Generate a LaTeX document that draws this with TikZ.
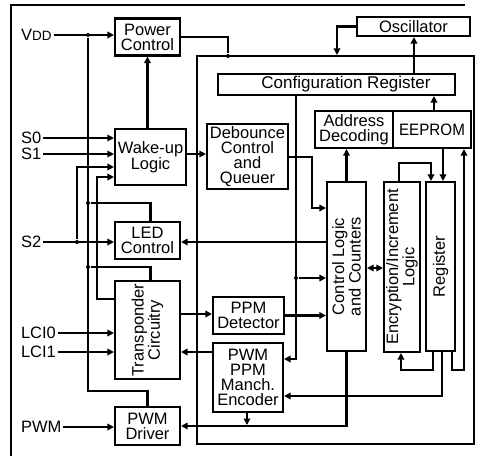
\documentclass[tikz,border=0pt]{standalone}
\usepackage{fontspec}
\setmainfont{Liberation Sans}
\usetikzlibrary{arrows.meta}
\newcommand{\blkfont}{\fontsize{16.5}{15}\selectfont}

\begin{document}
\begin{tikzpicture}[x=1pt,y=-1pt,line width=2.1pt,
	>={Triangle[length=6.5pt,width=6.5pt]},
	blk/.style={draw, inner sep=0pt, align=center, font=\blkfont},
	lbl/.style={inner sep=1pt, anchor=west, font=\blkfont},
	vtext/.style={rotate=90, inner sep=0pt, align=center, font=\blkfont},
	thinline/.style={line width=1.1pt},
	dot/.style={circle, fill, inner sep=0pt, minimum size=4pt}]
			\useasboundingbox (0,0) rectangle (479,456);
			\draw (11,456) -- (11,5) -- (465,5);
			\node[draw, inner sep=0pt, minimum width=277, minimum height=388] (chip) at (335.5,250) {};
			\node[blk, minimum width=65, minimum height=37] (pwr) at (147.5,37) {Power\\Control};
			\node[blk, minimum width=113, minimum height=19] (osc) at (413.5,26.5) {Oscillator};
			\node[blk, minimum width=237, minimum height=21, font=\fontsize{17}{15}\selectfont] (cfg) at (336.5,84.5) {\hspace*{19pt}Configuration Register};
			\node[blk, minimum width=78, minimum height=37] (addr) at (354,129.5) {Address\\Decoding};
			\node[blk, minimum width=78, minimum height=37] (eep) at (432,129.5) {\scalebox{0.92}[1]{EEPROM}};
			\node[blk, minimum width=71, minimum height=56] (wake) at (150.5,157) {Wake-up\\Logic};
			\node[blk, minimum width=81, minimum height=65] (deb) at (247.5,156.5) {Debounce\\Control\\and\\Queuer};
			\node[blk, minimum width=65, minimum height=37] (led) at (147.5,240.5) {LED\\Control};
			\node[blk, minimum width=39, minimum height=169] (ctl) at (346.5,266.5) {};
			\node[vtext] at (ctl) {Control Logic\\and Counters};
			\node[blk, minimum width=36, minimum height=170] (enc) at (402,267) {};
			\node[vtext] at (enc) {Encryption/Increment\\Logic};
			\node[blk, minimum width=29, minimum height=169] (reg) at (440.5,266.5) {};
			\node[vtext] at (reg) {Register};
			\node[blk, minimum width=71, minimum height=37] (ppm) at (248.5,315.5) {PPM\\Detector};
			\node[blk, minimum width=65, minimum height=98] (trn) at (147.5,330) {};
			\node[vtext] at (trn) {Transponder\\Circuitry};
			\node[blk, minimum width=70, minimum height=69] (pwmenc) at (248,377.5) {PWM\\PPM\\Manch.\\Encoder};
			\node[blk, minimum width=65, minimum height=38] (drv) at (147.5,426) {PWM\\Driver};

			\node[lbl] (vdd) at (19,35) {V{\fontsize{13.5}{13.5}\selectfont DD}};
			\node[lbl] (s0) at (19,138) {S0};
			\node[lbl] (s1) at (19,154) {S1};
			\node[lbl] (s2) at (19,242) {S2};
			\node[lbl] (lci0) at (19,333) {LCI0};
			\node[lbl] (lci1) at (19,352) {LCI1};
			\node[lbl] (pwm) at (19,427) {PWM};

			\node[dot] (vddtap) at (88,35) {};
			\node[dot] (ledtap) at (88,203) {};
			\node[dot] (trntap) at (88,267) {};
			\node[dot] (s2tap) at (77,242) {};
			\node[dot] (pwrtap) at (228,56) {};
			\node[dot] (cfgtap) at (296,278) {};

			\draw[->] (vdd.east) -- (vdd.east -| pwr.west);
			\draw (vddtap) -- (88,391) -| (drv.north);
			\draw (ledtap) -| ([xshift=3pt]led.north);
			\draw (trntap) -| ([xshift=3pt]trn.north);
			\draw (pwr.east) -| (pwrtap);
			\draw[->] (wake.north -| pwr.south) -- (pwr.south);
			\draw[->, thinline] (s0.east) -- (s0.east -| wake.west);
			\draw[->, thinline] (s1.east) -- (s1.east -| wake.west);
			\draw[->] (s2.east) -- (s2.east -| led.west);
			\draw[->] (s2tap) |- (wake.west |- 0,167);
			\draw[->] (trn.west |- 0,299) -| (97,177) -- (wake.west |- 0,177);
			\draw[->, thinline] (wake.east |- 0,154) -- (deb.west |- 0,154);
			\draw[->] (deb.east |- 0,157) -- (312,157) |- (ctl.west |- 0,208);
			\draw[->] (ctl.north) -- (ctl.north |- addr.south);
			\draw[->] (cfg.north -| 414,0) -- (osc.south -| 414,0);
			\draw[->] (osc.west) -| (chip.north -| 337,0);
			\draw[->] (eep.north -| 434,0) -- (cfg.south -| 434,0);
			\draw[->] (cfg.south -| 296,0) -- (296,359) -- (pwmenc.east |- 0,359);
			\draw[->] (cfgtap) -- (ctl.west |- cfgtap);
			\draw[->] (ctl.west |- 0,242) -- (led.east |- 0,242);
			\draw[->] (trn.east |- 0,314) -- (ppm.west |- 0,314);
			\draw[->] (ppm.east) -- (ctl.west |- ppm.east);
			\draw[->] (lci0.east) -- (lci0.east -| trn.west);
			\draw[->] (lci1.east) -- (lci1.east -| trn.west);
			\draw[->] (pwmenc.west |- 0,352) -- (trn.east |- 0,352);
			\draw[->] (ctl.south) |- (drv.east);
			\draw[->] (pwmenc.south -| 247,0) -- (247,425);
			\draw[->] (reg.south -| 442,0) |- (pwmenc.east |- 0,396);
			\draw[->] (reg.south -| 433,0) |- (401,370) -- (enc.south -| 401,0);
			\draw[->] (enc.north -| 399,0) |- (431,163) -- (reg.north -| 431,0);
			\draw[->] (eep.south -| 443,0) -- (reg.north -| 443,0);
			\draw[->] (reg.south -| 452,0) |- (464,370) -- (eep.south -| 464,0);
			\draw[<->] (ctl.east |- 0,268) -- (enc.west |- 0,268);
			\draw[->] (pwm.east) -- (pwm.east -| drv.west);
		\end{tikzpicture}
\end{document}
